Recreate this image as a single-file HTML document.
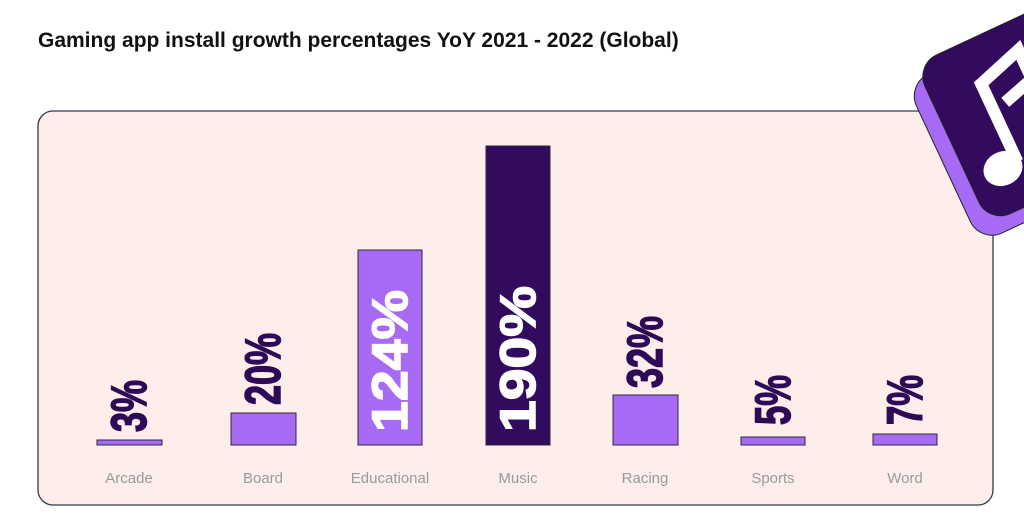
<!DOCTYPE html>
<html><head><style>
body{margin:0;background:#fff;width:1024px;height:526px;overflow:hidden;font-family:"Liberation Sans",sans-serif}
</style></head><body>
<svg width="1024" height="526" viewBox="0 0 1024 526" xmlns="http://www.w3.org/2000/svg">
<text x="38" y="47" font-size="21" font-weight="bold" fill="#111" font-family="Liberation Sans">Gaming app install growth percentages YoY 2021 - 2022 (Global)</text>
<rect x="38" y="111" width="955" height="394" rx="15" fill="#fdeeeb" stroke="#333a4a" stroke-width="1.3"/>
<g stroke="#2d2540" stroke-width="1">
<rect x="97" y="440" width="65" height="5" fill="#a66af5"/>
<rect x="231" y="413" width="65" height="32" fill="#a66af5"/>
<rect x="358" y="250" width="64" height="195" fill="#a66af5"/>
<rect x="486" y="146" width="64" height="299" fill="#330b5e"/>
<rect x="613" y="395" width="65" height="50" fill="#a66af5"/>
<rect x="741" y="437" width="64" height="8" fill="#a66af5"/>
<rect x="873" y="434" width="64" height="11" fill="#a66af5"/>
</g>
<g font-family="Liberation Sans" font-weight="bold" font-size="50" stroke-width="1.5">
<text transform="translate(146,432) rotate(-90)" textLength="52" lengthAdjust="spacingAndGlyphs" fill="#2f0a56" stroke="#2f0a56">3%</text>
<text transform="translate(280,405) rotate(-90)" textLength="72" lengthAdjust="spacingAndGlyphs" fill="#2f0a56" stroke="#2f0a56">20%</text>
<text transform="translate(407,432) rotate(-90)" textLength="142" lengthAdjust="spacingAndGlyphs" fill="#fff" stroke="#fff">124%</text>
<text transform="translate(535,432) rotate(-90)" textLength="146" lengthAdjust="spacingAndGlyphs" fill="#fff" stroke="#fff">190%</text>
<text transform="translate(662,388) rotate(-90)" textLength="72" lengthAdjust="spacingAndGlyphs" fill="#2f0a56" stroke="#2f0a56">32%</text>
<text transform="translate(790,425) rotate(-90)" textLength="50" lengthAdjust="spacingAndGlyphs" fill="#2f0a56" stroke="#2f0a56">5%</text>
<text transform="translate(922,425) rotate(-90)" textLength="50" lengthAdjust="spacingAndGlyphs" fill="#2f0a56" stroke="#2f0a56">7%</text>
</g>
<g font-family="Liberation Sans" font-size="15" fill="#9a9a9a" text-anchor="middle">
<text x="129" y="483">Arcade</text>
<text x="263" y="483">Board</text>
<text x="390" y="483">Educational</text>
<text x="518" y="483">Music</text>
<text x="645" y="483">Racing</text>
<text x="773" y="483">Sports</text>
<text x="905" y="483">Word</text>
</g>
<g transform="translate(915,65) rotate(-25)">
<rect x="-16" y="14" width="190" height="175" rx="24" fill="#a66af5" stroke="#222" stroke-width="1"/>
<rect x="0" y="0" width="190" height="175" rx="24" fill="#330b5e" stroke="#222" stroke-width="1"/>
<path d="M52,131 L52,45 L100,30 L100,62 L66,72" stroke="#fff" stroke-width="12" fill="none" stroke-linejoin="miter"/>
<ellipse cx="36" cy="131" rx="20" ry="17" fill="#fff"/>
</g>
</svg>
</body></html>
